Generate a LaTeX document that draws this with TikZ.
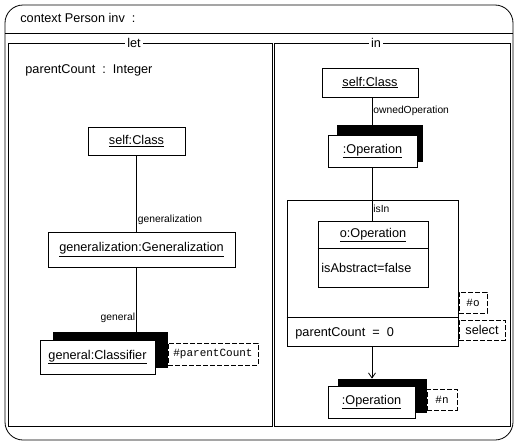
\documentclass[tikz,border=0pt]{standalone}
\usepackage{fontspec}
\setmainfont{Liberation Sans}
\setmonofont{Liberation Mono}
\usepackage{tikz}
\usetikzlibrary{positioning,arrows.meta}

\tikzset{
  objbox/.style={draw, fill=white, inner sep=0pt, font=\fontsize{12.7}{14}\selectfont},
  shadowbox/.style={fill=black, inner sep=0pt},
  notebox/.style={draw, dashed, dash pattern=on 5pt off 2pt, fill=white, inner sep=0pt, font=\fontsize{11}{13}\ttfamily},
  rolelbl/.style={font=\fontsize{10.3}{12}\selectfont, inner sep=1pt},
  maintext/.style={font=\fontsize{12.7}{14}\selectfont, inner sep=0pt},
  paneltitle/.style={fill=white, inner sep=2pt, font=\fontsize{12.7}{14}\selectfont}
}

\begin{document}
\begin{tikzpicture}[x=1pt,y=-1pt,line width=0.8pt]
\useasboundingbox (0,0) rectangle (515,442);

% frame and panels
\draw[rounded corners=18pt] (5,5) rectangle (513,440);
\draw (5,33) -- (513,33);
\node[maintext, anchor=west] (ctx) at (20,18) {context Person inv\ \ :};
\draw (8,43) rectangle (272,426);
\draw (274,43) rectangle (510,426);
\node[paneltitle] (lettitle) at (134,43) {let};
\node[paneltitle] (intitle) at (376,43) {in};

% let part
\node[maintext, anchor=west] (pcdecl) at (25,70) {parentCount\ \ :\ \ Integer};
\node[objbox, minimum width=97, minimum height=28] (lself) at (136.5,141) {\underline{self:Class}};
\node[objbox, minimum width=187, minimum height=35] (lgen) at (141.5,249.5) {\underline{generalization:Generalization}};
\node[shadowbox, minimum width=115, minimum height=36] (lclsb) at (110.5,350) {};
\node[objbox, minimum width=115, minimum height=34] (lcls) at (97.5,357) {\underline{general:Classifier}};
\node[notebox, minimum width=90, minimum height=22] (pcnote) at (213,354) {\#parentCount};
\draw (lself.south) -- (lself.south |- lgen.north)
  node[rolelbl, pos=0.85, right] {generalization};
\draw (lself.south |- lgen.south) -- (lself.south |- lclsb.north)
  node[rolelbl, pos=0.78, left] {general};

% in part
\node[objbox, minimum width=96, minimum height=29] (rself) at (370,82.5) {\underline{self:Class}};
\node[shadowbox, minimum width=86, minimum height=37] (ropb) at (380,143.5) {};
\node[objbox, minimum width=89, minimum height=32] (rop) at (372.5,151) {\underline{:Operation}};
\node[draw, minimum width=171, minimum height=146, inner sep=0pt] (sel) at (372.5,273) {};
\draw (sel.west |- 0,317) -- (sel.east |- 0,317);
\node[maintext, anchor=west] (pczero) at (295,333) {parentCount\ \ =\ \ 0};
\node[objbox, minimum width=110, minimum height=66] (oop) at (373,254) {};
\draw (oop.west |- 0,248) -- (oop.east |- 0,248);
\node[maintext] (ooptitle) at (373,235) {\underline{o:Operation}};
\node[maintext, anchor=west] (oopattr) at (321,268) {isAbstract=false};
\node[notebox, minimum width=28, minimum height=21] (onote) at (473,302.5) {\#o};
\node[notebox, font=\fontsize{12.7}{14}\selectfont, minimum width=46, minimum height=20] (selnote) at (482,330) {select};
\node[shadowbox, minimum width=89, minimum height=34] (nopb) at (382.5,396) {};
\node[objbox, minimum width=87, minimum height=32] (nop) at (371.5,402) {\underline{:Operation}};
\node[notebox, minimum width=30, minimum height=21] (nnote) at (442,399.5) {\#n};

\draw (rself.south -| 372,0) -- (372,0 |- ropb.north)
  node[rolelbl, pos=0.5, right] {ownedOperation};
\draw (372,0 |- rop.south) -- (372,0 |- oop.north)
  node[rolelbl, pos=0.78, right] {isIn};
\draw[-{Straight Barb[length=5pt,width=7pt]}] (372,0 |- sel.south) -- (372,0 |- nopb.north);
\end{tikzpicture}
\end{document}
